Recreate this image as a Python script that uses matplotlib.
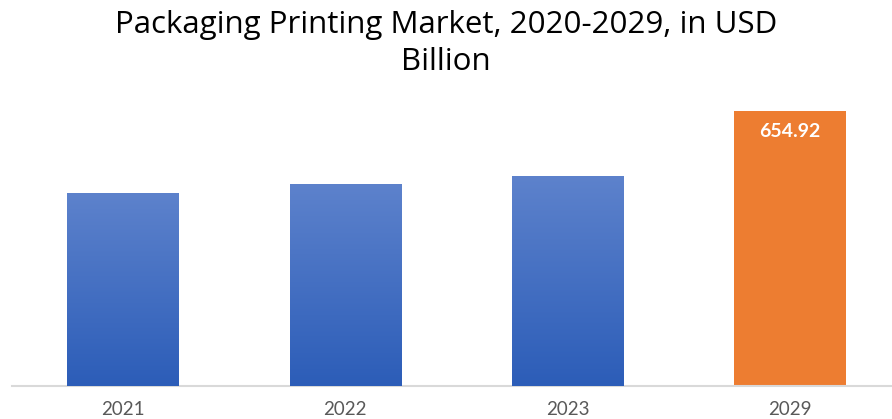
import numpy as np
import matplotlib.pyplot as plt
from matplotlib.colors import LinearSegmentedColormap

years = ["2021", "2022", "2023", "2029"]
values = [459.6, 481.1, 500.1, 654.92]
label_text = "654.92"
title_lines = ["Packaging Printing Market, 2020-2029, in USD", "Billion"]

blue_top = "#5D82CC"
blue_bottom = "#2C5DB8"
orange = "#ED7D31"

fig = plt.figure(figsize=(8.92, 4.19), dpi=100)
ax = fig.add_axes([11.5 / 892, 33 / 419, 1 - 11.5 / 892, 286 / 419])

x = np.arange(len(years))
bars = ax.bar(x, values, width=0.5, color=[blue_bottom] * 3 + [orange], zorder=2)

# vertical gradient on the blue bars
cmap = LinearSegmentedColormap.from_list("blue_grad", [blue_bottom, blue_top])
grad = np.linspace(0, 1, 256).reshape(-1, 1)
for bar in bars[:3]:
    bx, bw, bh = bar.get_x(), bar.get_width(), bar.get_height()
    im = ax.imshow(grad, cmap=cmap, aspect="auto", origin="lower",
                   extent=[bx, bx + bw, 0, bh], zorder=3)
    im.set_clip_path(bar)

ax.text(x[3], values[3] - 21 * 2.3815, label_text, ha="center", va="center",
        color="white", fontsize=14, fontweight="bold", family="Lato", zorder=4)

ax.set_xlim(-0.5, (892 - 122.5) / 222.5)
ax.set_ylim(0, 681.1)
ax.set_xticks(x)
ax.set_xticklabels(years, fontsize=13.5, color="#595959", family="Lato")
ax.tick_params(axis="x", length=0, pad=11)
ax.set_yticks([])
for s in ["top", "right", "left"]:
    ax.spines[s].set_visible(False)
ax.spines["bottom"].set_color("#D9D9D9")
ax.spines["bottom"].set_linewidth(1.5)

fig.text(0.5, 1 - 33 / 419, title_lines[0], ha="center", va="baseline",
         fontsize=22.5, family="Open Sans", color="black")
fig.text(0.5, 1 - 70 / 419, title_lines[1], ha="center", va="baseline",
         fontsize=22.5, family="Open Sans", color="black")

fig.savefig("out.png", dpi=100)
